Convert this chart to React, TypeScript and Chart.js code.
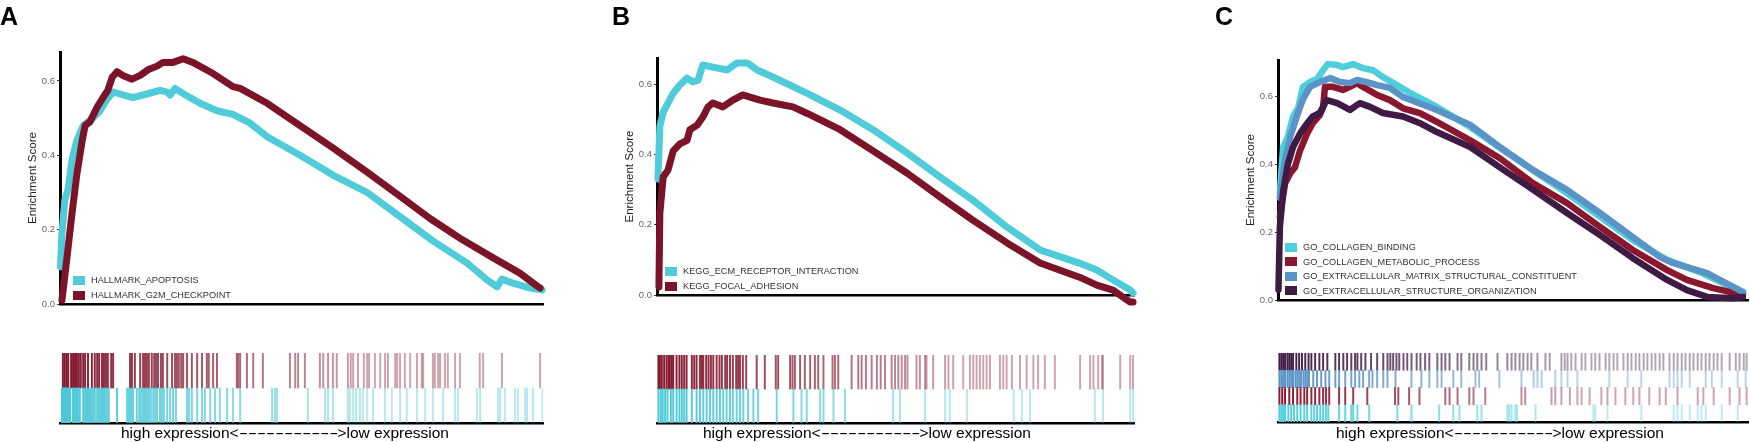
import { useEffect, useRef } from 'react'
import { Chart, registerables } from 'chart.js'

Chart.register(...registerables)

const FONT = "'Liberation Sans', Arial, Helvetica, sans-serif"
Chart.defaults.font.family = FONT

// ---- Panel A: hallmark sets (x = position in ranked list, %) ----
const apoptosisRank = [0.1, 0.4, 1.0, 1.7, 2.5, 3.5, 4.8, 6.8, 8.3, 9.7, 11.0, 12.4, 15.1, 18.0, 20.7, 22.2, 22.8, 23.8, 26.3, 29.0, 32.5, 35.8, 39.3, 42.9, 49.7, 56.5, 63.6, 70.4, 77.2, 84.3, 88.4, 90.5, 91.5, 93.8, 97.3, 99.8]
const apoptosisES = [0.10, 0.19, 0.28, 0.31, 0.39, 0.44, 0.48, 0.50, 0.52, 0.55, 0.57, 0.565, 0.555, 0.565, 0.575, 0.57, 0.562, 0.58, 0.56, 0.54, 0.52, 0.51, 0.487, 0.45, 0.40, 0.347, 0.30, 0.235, 0.17, 0.11, 0.065, 0.046, 0.067, 0.056, 0.043, 0.038]
const g2mRank = [0.4, 1.4, 2.5, 3.5, 4.6, 5.2, 6.2, 7.7, 8.9, 9.9, 10.8, 11.8, 13.0, 14.9, 16.6, 18.2, 20.1, 21.3, 23.4, 25.5, 27.5, 31.7, 35.8, 37.3, 42.9, 49.7, 56.5, 63.6, 70.4, 76.6, 83.4, 90.5, 95.2, 98.8, 99.4]
const g2mES = [0.01, 0.12, 0.245, 0.35, 0.44, 0.48, 0.49, 0.53, 0.555, 0.575, 0.61, 0.625, 0.615, 0.605, 0.615, 0.63, 0.64, 0.65, 0.65, 0.66, 0.65, 0.62, 0.585, 0.58, 0.54, 0.48, 0.42, 0.355, 0.29, 0.23, 0.172, 0.118, 0.083, 0.048, 0.043]
const g2mHits = [0.6, 1.0, 1.4, 1.7, 2.3, 2.7, 2.9, 3.3, 3.5, 3.9, 4.3, 4.8, 5.2, 5.8, 6.6, 7.2, 7.7, 8.1, 8.7, 9.1, 9.5, 9.9, 10.6, 11.0, 14.5, 14.9, 15.5, 16.6, 17.2, 17.6, 18.0, 18.4, 19.0, 19.5, 19.9, 20.3, 20.9, 21.3, 22.2, 23.2, 23.8, 24.2, 24.6, 25.1, 25.5, 26.3, 27.3, 28.4, 29.4, 30.4, 30.8, 31.7, 32.5, 36.6, 36.9, 37.3, 38.7, 40.0, 42.0, 47.6, 48.7, 49.3, 50.7, 53.8, 54.5, 55.5, 56.5, 57.3, 59.6, 60.2, 60.7, 61.7, 62.9, 63.6, 64.0, 65.2, 66.3, 67.3, 67.9, 69.4, 69.8, 70.4, 71.4, 72.5, 73.9, 74.9, 75.2, 77.2, 77.6, 78.3, 78.7, 79.7, 80.3, 81.8, 82.8, 86.9, 87.6, 91.5, 99.4]
const apoptosisHits = [0.4, 0.6, 0.8, 1.0, 1.2, 1.4, 1.7, 1.9, 2.1, 2.7, 2.9, 3.1, 3.5, 3.7, 4.1, 4.8, 5.2, 5.6, 6.0, 6.4, 6.8, 7.2, 7.7, 8.1, 8.5, 8.9, 9.3, 9.7, 10.1, 11.8, 13.9, 14.3, 14.7, 15.1, 15.9, 16.4, 16.8, 17.2, 17.6, 18.0, 18.4, 18.8, 19.3, 19.7, 20.1, 20.7, 21.1, 21.5, 22.2, 22.8, 23.4, 24.0, 26.3, 26.7, 27.3, 28.4, 29.4, 30.0, 31.1, 32.1, 33.1, 34.6, 35.8, 37.3, 43.9, 44.5, 44.9, 51.3, 54.9, 55.5, 56.5, 59.6, 60.0, 60.7, 61.3, 62.1, 62.7, 63.6, 64.8, 67.3, 68.7, 70.4, 71.8, 73.9, 75.6, 77.2, 79.3, 81.8, 82.4, 86.3, 87.0, 90.7, 91.1, 92.1, 94.2, 94.8, 96.3, 96.7, 97.9, 99.9]

// ---- Panel B: KEGG sets ----
const ecmRank = [0.2, 0.6, 1.3, 2.3, 3.4, 4.8, 6.3, 7.5, 8.6, 9.6, 11.7, 14.7, 16.8, 18.9, 21.0, 24.3, 31.4, 38.4, 45.3, 52.4, 59.3, 66.2, 73.4, 80.3, 88.7, 92.2, 95.6, 99.2, 99.8]
const ecmES = [0.33, 0.48, 0.52, 0.546, 0.574, 0.597, 0.617, 0.606, 0.611, 0.654, 0.648, 0.64, 0.66, 0.66, 0.64, 0.62, 0.574, 0.526, 0.47, 0.404, 0.336, 0.27, 0.193, 0.128, 0.09, 0.071, 0.043, 0.014, 0.006]
const focalRank = [0.4, 0.6, 1.3, 2.3, 3.4, 4.8, 6.3, 6.9, 8.4, 9.6, 10.7, 11.7, 13.8, 15.9, 18.0, 19.5, 21.6, 24.3, 28.5, 31.4, 38.4, 45.3, 52.4, 59.3, 66.2, 73.4, 80.3, 88.7, 92.2, 95.6, 99.2, 99.8]
const focalES = [0.023, 0.233, 0.336, 0.355, 0.41, 0.43, 0.44, 0.47, 0.483, 0.506, 0.535, 0.546, 0.535, 0.554, 0.569, 0.563, 0.554, 0.546, 0.535, 0.517, 0.47, 0.41, 0.347, 0.279, 0.213, 0.148, 0.091, 0.05, 0.028, 0.014, -0.02, -0.02]
const focalHits = [0.3, 0.6, 1.0, 1.5, 2.0, 2.4, 2.7, 3.1, 3.4, 4.1, 4.7, 5.2, 5.7, 6.2, 7.3, 7.8, 8.3, 9.0, 9.4, 9.7, 10.3, 10.8, 11.3, 11.8, 12.5, 13.1, 13.6, 14.3, 14.7, 15.3, 15.9, 16.6, 17.0, 17.4, 18.0, 18.7, 20.9, 22.6, 24.9, 25.4, 27.9, 28.4, 28.9, 30.0, 31.0, 32.1, 33.1, 33.8, 34.9, 36.8, 37.3, 38.0, 40.8, 42.2, 42.9, 43.8, 45.0, 46.1, 46.9, 47.8, 49.2, 49.9, 50.6, 51.3, 52.0, 52.5, 54.4, 55.1, 56.2, 56.5, 57.9, 60.4, 61.1, 62.1, 64.2, 65.6, 66.3, 67.0, 67.7, 68.4, 69.1, 69.8, 71.9, 72.6, 73.3, 74.4, 76.1, 77.5, 78.9, 79.9, 81.3, 83.4, 88.7, 90.8, 91.5, 92.5, 93.3, 93.5, 97.1, 99.2, 99.8]
const ecmHits = [0.3, 0.8, 1.2, 1.7, 2.2, 2.9, 3.4, 4.1, 4.7, 5.2, 5.7, 6.2, 7.3, 8.3, 9.0, 9.7, 10.4, 11.1, 11.8, 12.5, 13.2, 13.9, 14.6, 15.3, 15.9, 16.7, 17.4, 18.1, 19.1, 20.2, 21.2, 25.1, 28.6, 30.3, 31.4, 34.2, 34.9, 37.0, 39.4, 49.5, 50.9, 56.2, 60.4, 61.4, 65.0, 74.8, 76.5, 78.2, 91.8, 93.5, 99.2, 99.8]

// ---- Panel C: GO sets ----
const bindingRank = [0.4, 1.1, 2.1, 3.2, 4.3, 5.3, 6.8, 8.3, 9.6, 10.6, 12.6, 13.8, 16.0, 18.1, 20.2, 22.3, 25.3, 28.1, 33.8, 40.9, 47.9, 61.5, 75.5, 82.8, 89.8, 99.0]
const bindingES = [0.315, 0.45, 0.48, 0.54, 0.565, 0.627, 0.641, 0.65, 0.676, 0.694, 0.691, 0.685, 0.694, 0.682, 0.676, 0.656, 0.632, 0.609, 0.568, 0.509, 0.441, 0.314, 0.176, 0.118, 0.082, 0.02]
const metabolicRank = [0.4, 1.5, 2.6, 3.6, 4.7, 6.2, 7.4, 8.9, 9.6, 10.0, 11.7, 13.8, 15.3, 16.8, 18.1, 21.1, 23.8, 26.6, 30.2, 33.8, 40.9, 47.2, 54.3, 61.5, 68.5, 75.5, 82.8, 87.0, 92.6, 98.9]
const metabolicES = [0.245, 0.343, 0.373, 0.39, 0.44, 0.49, 0.52, 0.544, 0.568, 0.627, 0.627, 0.618, 0.627, 0.638, 0.627, 0.603, 0.588, 0.564, 0.55, 0.524, 0.47, 0.417, 0.343, 0.285, 0.215, 0.147, 0.088, 0.059, 0.035, 0.015]
const matrixRank = [0.4, 1.5, 2.6, 4.0, 5.3, 6.8, 8.9, 11.1, 13.2, 15.3, 16.8, 18.9, 21.1, 23.8, 26.6, 33.8, 40.9, 47.2, 54.3, 61.5, 68.5, 75.5, 81.3, 84.0, 87.0, 91.3, 94.0, 98.9]
const matrixES = [0.30, 0.41, 0.48, 0.54, 0.59, 0.627, 0.641, 0.653, 0.641, 0.638, 0.647, 0.641, 0.632, 0.624, 0.597, 0.559, 0.515, 0.45, 0.382, 0.324, 0.256, 0.185, 0.126, 0.109, 0.097, 0.079, 0.059, 0.024]
const structureRank = [0.1, 0.4, 1.1, 2.1, 3.2, 4.7, 6.2, 7.4, 8.9, 10.0, 10.4, 12.6, 15.3, 17.4, 19.6, 22.3, 26.6, 30.2, 33.8, 40.9, 47.2, 54.3, 61.5, 68.5, 75.5, 82.8, 87.0, 91.3, 96.8, 98.9]
const structureES = [0.03, 0.215, 0.32, 0.40, 0.45, 0.49, 0.52, 0.54, 0.55, 0.579, 0.588, 0.579, 0.559, 0.579, 0.568, 0.55, 0.54, 0.52, 0.494, 0.45, 0.39, 0.324, 0.256, 0.191, 0.123, 0.059, 0.029, 0.009, 0.005, 0.009]
const structureHits = [0.3, 0.7, 1.1, 1.5, 2.0, 2.4, 2.8, 3.2, 3.9, 4.5, 5.1, 5.8, 6.5, 7.1, 7.9, 8.8, 9.6, 10.5, 12.2, 13.0, 13.9, 14.7, 15.6, 16.4, 16.9, 17.7, 18.6, 19.8, 21.1, 22.4, 23.3, 23.9, 24.5, 25.2, 25.8, 26.7, 27.5, 28.4, 29.5, 30.3, 31.3, 32.2, 33.9, 34.8, 35.6, 36.5, 38.2, 39.0, 40.7, 41.6, 42.4, 43.3, 44.3, 46.7, 48.8, 49.7, 50.5, 51.4, 52.2, 53.1, 53.9, 55.2, 56.9, 57.8, 60.3, 61.0, 61.6, 62.4, 63.3, 64.6, 65.4, 66.7, 67.5, 68.4, 69.7, 70.5, 71.4, 72.2, 73.5, 74.4, 75.2, 76.1, 76.9, 77.8, 78.6, 79.5, 80.3, 81.2, 82.0, 83.3, 84.2, 85.0, 85.9, 86.7, 87.6, 88.4, 89.3, 90.1, 91.0, 91.8, 92.7, 93.5, 94.4, 96.1, 97.4, 98.2, 99.1, 99.7]
const matrixHits = [0.3, 0.7, 1.1, 1.5, 2.0, 2.4, 2.8, 3.2, 3.7, 4.1, 4.5, 4.9, 5.4, 5.8, 6.2, 6.6, 7.5, 8.3, 9.2, 10.1, 10.9, 12.2, 13.0, 14.3, 15.6, 16.4, 17.3, 18.1, 19.4, 20.1, 21.1, 22.4, 23.3, 25.0, 28.4, 30.5, 32.2, 33.9, 34.8, 37.3, 39.0, 42.0, 42.8, 47.1, 51.8, 54.4, 55.2, 56.1, 59.0, 60.3, 61.6, 63.7, 70.5, 74.4, 77.3, 83.3, 84.2, 85.0, 85.9, 87.6, 91.0, 92.3, 94.4, 97.8, 99.5]
const metabolicHits = [0.3, 0.9, 1.5, 2.4, 3.2, 4.1, 4.8, 5.6, 6.2, 7.1, 7.9, 8.8, 9.6, 10.2, 10.9, 13.0, 14.3, 16.0, 19.0, 24.9, 25.6, 27.9, 30.1, 35.6, 36.5, 38.2, 40.7, 41.6, 44.1, 51.8, 52.6, 58.2, 59.0, 60.3, 62.1, 63.7, 64.6, 66.3, 68.8, 70.1, 71.8, 73.9, 75.6, 76.9, 79.0, 81.2, 82.5, 85.0, 89.3, 90.5, 92.7, 96.1, 98.2, 99.7]
const bindingHits = [0.3, 0.7, 1.1, 1.5, 2.2, 2.8, 3.4, 4.1, 4.8, 5.6, 6.2, 7.1, 7.7, 8.3, 9.0, 9.6, 10.2, 10.7, 13.0, 14.3, 15.6, 16.0, 16.9, 19.4, 25.4, 28.4, 34.3, 37.3, 38.6, 42.4, 43.3, 48.8, 49.2, 49.7, 50.5, 50.9, 54.8, 67.1, 67.5, 70.1, 77.3, 84.2, 85.0, 85.9, 87.6, 89.3, 90.1, 91.0, 94.4, 97.8]

const CYAN = '#50CBD9'
const WINE = '#7B1429'

type Curve = { name: string; color: string; rank: number[]; es: number[] }
type RugRow = { name: string; color: string; hits: number[] }
type Layout = {
  label: string
  labelX: number
  left: number
  plotRight: number
  plotTop: number
  plotBottom: number
  rugTop: number
  rugBottom: number
  legendX: number
  legendRows: number[]
  captionX: number
  yMax: number
  lineWidth: number
}

const AXIS_W = 60

function rgba(hex: string, a: number) {
  const n = parseInt(hex.slice(1), 16)
  return `rgba(${(n >> 16) & 255}, ${(n >> 8) & 255}, ${n & 255}, ${a})`
}

// leading-edge hits are drawn darker
function hitAlpha(pos: number) {
  return Math.max(0.4, 1 - pos * 0.0095)
}

function GseaPanel({ layout, curves, rug }: { layout: Layout; curves: Curve[]; rug: RugRow[] }) {
  const lineRef = useRef<HTMLCanvasElement>(null)
  const rugRef = useRef<HTMLCanvasElement>(null)
  const rightPad = Math.min(12, 1750 - layout.plotRight)

  useEffect(() => {
    if (!lineRef.current || !rugRef.current) return

    const lineChart = new Chart(lineRef.current, {
      type: 'line',
      data: {
        datasets: curves.map((c, i) => ({
          label: c.name,
          data: c.rank.map((r, k) => ({ x: r, y: c.es[k] })),
          borderColor: c.color,
          backgroundColor: c.color,
          borderWidth: layout.lineWidth,
          borderJoinStyle: 'round' as const,
          borderCapStyle: 'round' as const,
          pointRadius: 0,
          tension: 0,
          clip: false as any,
          order: curves.length - i,
        })),
      },
      options: {
        animation: false,
        responsive: true,
        maintainAspectRatio: false,
        events: [],
        layout: { padding: { top: layout.plotTop, right: rightPad, left: 0, bottom: 0 } },
        plugins: { legend: { display: false }, tooltip: { enabled: false } },
        scales: {
          x: {
            type: 'linear',
            min: 0,
            max: 100,
            offset: false,
            ticks: { display: false },
            grid: { display: false },
            border: { display: true, color: '#000', width: 2.5 },
            afterFit: (s: any) => { s.height = 14 },
          },
          y: {
            min: 0,
            max: layout.yMax,
            ticks: {
              stepSize: 0.2,
              includeBounds: false,
              callback: (v: any) => Number(v).toFixed(1),
              color: '#666',
              font: { size: 9.5 },
              padding: 2,
            },
            grid: { drawOnChartArea: false, drawTicks: true, tickLength: 3, tickColor: '#333', tickWidth: 1 },
            border: { display: true, color: '#000', width: 3 },
            title: {
              display: true,
              text: 'Enrichment Score',
              color: '#222',
              font: { size: 11.6 },
              padding: { top: 26, bottom: 0 },
            },
            afterFit: (s: any) => { s.width = AXIS_W },
          },
        },
      },
    })

    const rugChart = new Chart(rugRef.current, {
      type: 'bar',
      data: {
        datasets: rug.map((row, r) => ({
          label: row.name,
          data: row.hits.map(h => ({ x: h, y: [r, r + 1] })) as any,
          backgroundColor: (ctx: any) => (ctx.raw ? rgba(row.color, hitAlpha(ctx.raw.x)) : row.color),
          barThickness: 1.3,
          grouped: false,
          borderWidth: 0,
        })),
      },
      options: {
        animation: false,
        responsive: true,
        maintainAspectRatio: false,
        events: [],
        layout: { padding: { top: 10, right: rightPad, left: AXIS_W, bottom: 0 } },
        plugins: { legend: { display: false }, tooltip: { enabled: false } },
        scales: {
          x: {
            type: 'linear',
            min: 0,
            max: 100,
            offset: false,
            ticks: { display: false },
            grid: { display: false },
            border: { display: true, color: '#000', width: 2.5 },
            afterFit: (s: any) => { s.height = 6 },
          },
          y: { display: false, min: 0, max: rug.length },
        },
      },
    })

    return () => {
      lineChart.destroy()
      rugChart.destroy()
    }
  }, [layout, curves, rug, rightPad])

  const lineW = layout.plotRight - layout.left + rightPad
  const rugH = layout.rugBottom - layout.rugTop + 16

  return (
    <>
      <div style={{ position: 'absolute', left: layout.left, top: 0, width: lineW, height: layout.plotBottom + 14 }}>
        <canvas ref={lineRef}></canvas>
      </div>
      <div style={{ position: 'absolute', left: layout.left, top: layout.rugTop - 10, width: lineW, height: rugH }}>
        <canvas ref={rugRef}></canvas>
      </div>
      <div style={{ position: 'absolute', left: layout.labelX, top: 3.8, fontSize: 25, lineHeight: '25px', fontWeight: 'bold', color: '#000' }}>
        {layout.label}
      </div>
      {curves.map((c, i) => (
        <div key={c.name}>
          <div style={{ position: 'absolute', left: layout.legendX, top: layout.legendRows[i] - 4.5, width: 12, height: 9, background: c.color }}></div>
          <div style={{ position: 'absolute', left: layout.legendX + 18, top: layout.legendRows[i] - 5, fontSize: 9.2, lineHeight: '10px', color: '#333', whiteSpace: 'nowrap' }}>
            {c.name}
          </div>
        </div>
      ))}
      <div style={{ position: 'absolute', left: layout.captionX - 200, width: 400, top: 425, textAlign: 'center', fontSize: 15.5, lineHeight: '15.5px', color: '#000', whiteSpace: 'nowrap' }}>
        high expression&lt;<span style={{ display: 'inline-block', transform: 'scaleX(1.75)', transformOrigin: 'left center', marginRight: 42 }}>-----------</span>&gt;low expression
      </div>
    </>
  )
}

const curvesA: Curve[] = [
  { name: 'HALLMARK_APOPTOSIS', color: CYAN, rank: apoptosisRank, es: apoptosisES },
  { name: 'HALLMARK_G2M_CHECKPOINT', color: WINE, rank: g2mRank, es: g2mES },
]
const rugA: RugRow[] = [
  { name: 'HALLMARK_APOPTOSIS', color: '#4CC8D7', hits: apoptosisHits },
  { name: 'HALLMARK_G2M_CHECKPOINT', color: '#84182F', hits: g2mHits },
]
const curvesB: Curve[] = [
  { name: 'KEGG_ECM_RECEPTOR_INTERACTION', color: CYAN, rank: ecmRank, es: ecmES },
  { name: 'KEGG_FOCAL_ADHESION', color: WINE, rank: focalRank, es: focalES },
]
const rugB: RugRow[] = [
  { name: 'KEGG_ECM_RECEPTOR_INTERACTION', color: '#4CC8D7', hits: ecmHits },
  { name: 'KEGG_FOCAL_ADHESION', color: '#84182F', hits: focalHits },
]
const curvesC: Curve[] = [
  { name: 'GO_COLLAGEN_BINDING', color: '#4FCEDC', rank: bindingRank, es: bindingES },
  { name: 'GO_COLLAGEN_METABOLIC_PROCESS', color: '#8A1630', rank: metabolicRank, es: metabolicES },
  { name: 'GO_EXTRACELLULAR_MATRIX_STRUCTURAL_CONSTITUENT', color: '#5A93C5', rank: matrixRank, es: matrixES },
  { name: 'GO_EXTRACELLULAR_STRUCTURE_ORGANIZATION', color: '#3F1A45', rank: structureRank, es: structureES },
]
const rugC: RugRow[] = [
  { name: 'GO_COLLAGEN_BINDING', color: '#4FCEDC', hits: bindingHits },
  { name: 'GO_COLLAGEN_METABOLIC_PROCESS', color: '#8A1630', hits: metabolicHits },
  { name: 'GO_EXTRACELLULAR_MATRIX_STRUCTURAL_CONSTITUENT', color: '#5A93C5', hits: matrixHits },
  { name: 'GO_EXTRACELLULAR_STRUCTURE_ORGANIZATION', color: '#3F1A45', hits: structureHits },
]

const layoutA: Layout = {
  label: 'A', labelX: 0, left: 0, plotRight: 543, plotTop: 52, plotBottom: 304,
  rugTop: 353, rugBottom: 423, legendX: 73, legendRows: [280, 295], captionX: 285, yMax: 0.678, lineWidth: 7,
}
const layoutB: Layout = {
  label: 'B', labelX: 612, left: 597, plotRight: 1134, plotTop: 58, plotBottom: 295,
  rugTop: 355, rugBottom: 423, legendX: 665, legendRows: [271, 286], captionX: 867, yMax: 0.674, lineWidth: 7,
}
const layoutC: Layout = {
  label: 'C', labelX: 1215, left: 1218, plotRight: 1748, plotTop: 60, plotBottom: 300,
  rugTop: 353, rugBottom: 422, legendX: 1285, legendRows: [247, 261.5, 276, 290.5], captionX: 1500, yMax: 0.706, lineWidth: 6.5,
}

export default function App() {
  return (
    <div style={{ position: 'absolute', left: 0, top: 0, width: 1750, height: 442, overflow: 'hidden', background: '#fff', fontFamily: FONT }}>
      <GseaPanel layout={layoutA} curves={curvesA} rug={rugA} />
      <GseaPanel layout={layoutB} curves={curvesB} rug={rugB} />
      <GseaPanel layout={layoutC} curves={curvesC} rug={rugC} />
    </div>
  )
}
